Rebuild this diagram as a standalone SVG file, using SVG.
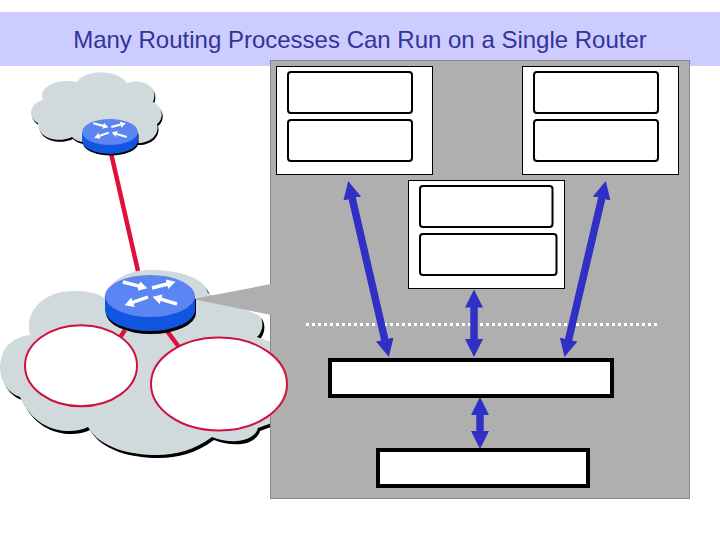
<svg xmlns="http://www.w3.org/2000/svg" xmlns:xlink="http://www.w3.org/1999/xlink" width="720" height="540" viewBox="0 0 720 540">
<style>
.box{fill:#fff;stroke:#000;stroke-width:1}
.inner{fill:#fff;stroke:#000;stroke-width:2}
.thick{fill:#fff;stroke:#000;stroke-width:4}
.link{stroke:#e0103c;stroke-width:4.500;fill:none}
.arrow{stroke:#3030c4;stroke-width:7.500;fill:none;marker-start:url(#head);marker-end:url(#head)}
.area{fill:#fff;stroke:#d0103c;stroke-width:2}
.cloud{fill:#d0dadc}
.wa{stroke:#fff;stroke-width:3.400;marker-end:url(#whead)}
</style>
<defs>
<marker id="head" markerUnits="userSpaceOnUse" markerWidth="20" markerHeight="20" refX="1" refY="9" orient="auto-start-reverse"><path d="M0,0L18,9L0,18Z" fill="#3030c4"/></marker>
<marker id="whead" markerUnits="userSpaceOnUse" markerWidth="11" markerHeight="11" refX="0.5" refY="5" orient="auto"><path d="M0,0L9,5L0,10Z" fill="#fff"/></marker>
<path id="sc" d="M38,123 C28,118 28,104 43,100 C38,88 55,78 77,82 C85,70 115,68 127,83 C140,78 160,85 153,102 C165,108 163,120 157,124 C160,135 150,143 138,143 L82,142 Q76,141 72,137 C60,143 38,140 38,123Z"/>
<path id="lc" d="M30,335 C24,310 45,290 75,291 C88,291 98,293 104,298 C108,280 130,270 150,270 C180,270 205,278 208,293 L260,316 C264,322 263,332 257,337 L280,345 L280,420 L258,428 C255,440 235,446 212,437 C195,450 175,455 157,455 C130,455 100,448 88,427 C70,436 35,432 20,397 C5,392 -3,375 1,360 C3,345 15,337 30,335Z"/>
<g id="router-shape">
<path d="M-45,1V15A45,21 0 0 0 45,15V1Z" fill="#000" transform="translate(1,2)"/>
<path d="M-45,0V14A45,21 0 0 0 45,14V0Z" fill="#1155e0"/>
<ellipse rx="45" ry="21" fill="#5a85f2"/>
<line class="wa" x1="-27" y1="-14" x2="-10.800" y2="-9.900"/>
<line class="wa" x1="2" y1="-8" x2="17.300" y2="-12"/>
<line class="wa" x1="-2" y1="1" x2="-17.400" y2="6.400"/>
<line class="wa" x1="27" y1="8" x2="10.700" y2="3.200"/>
</g>
</defs>
<rect width="720" height="540" fill="#fff"/>
<g id="title">
<rect x="0" y="12" width="720" height="54" fill="#ccccff"/>
<text x="360" y="47.500" text-anchor="middle" font-family="Liberation Sans, Arial, sans-serif" font-size="24" fill="#333399">Many Routing Processes Can Run on a Single Router</text>
</g>
<g id="cloud-top">
<use xlink:href="#sc" href="#sc" fill="#000" transform="translate(1,2)"/>
<use xlink:href="#sc" href="#sc" class="cloud"/>
</g>
<g id="cloud-main">
<use xlink:href="#lc" href="#lc" fill="#000" transform="translate(2,3)"/>
<use xlink:href="#lc" href="#lc" class="cloud"/>
</g>
<g id="panel">
<rect x="270.500" y="60.500" width="419" height="438" fill="#afafaf" stroke="#888" stroke-width="1"/>
<polygon points="193,299 271,284 271,315" fill="#afafaf"/>
</g>
<g id="connectors">
<line class="link" x1="111" y1="153" x2="138" y2="271"/>
<line class="link" x1="125" y1="330" x2="119" y2="339"/>
<line class="link" x1="167" y1="331" x2="179" y2="347"/>
<line x1="306" y1="324.500" x2="658" y2="324.500" stroke="#fff" stroke-width="3" stroke-dasharray="3 3"/>
<line class="arrow" x1="352" y1="197.500" x2="385" y2="340.500"/>
<line class="arrow" x1="601.900" y1="197.500" x2="568.400" y2="340.500"/>
<line class="arrow" x1="474" y1="306.500" x2="474" y2="340"/>
<line class="arrow" x1="480" y1="414" x2="480" y2="432"/>
</g>
<g id="router-top"><use xlink:href="#router-shape" href="#router-shape" transform="translate(110,132) scale(.62)"/></g>
<g id="router-main"><use xlink:href="#router-shape" href="#router-shape" transform="translate(150,296)"/></g>
<g id="area-left"><ellipse class="area" cx="81" cy="365.700" rx="56" ry="40.500"/></g>
<g id="area-right"><ellipse class="area" cx="219" cy="384" rx="68" ry="46.500"/></g>
<g id="process-left">
<rect class="box" x="276.500" y="66.500" width="156" height="108"/>
<rect class="inner" x="288" y="72" width="124" height="41" rx="3"/>
<rect class="inner" x="288" y="120" width="124" height="41" rx="3"/>
</g>
<g id="process-right">
<rect class="box" x="522.500" y="66.500" width="156" height="108"/>
<rect class="inner" x="534" y="72" width="124" height="41" rx="3"/>
<rect class="inner" x="534" y="120" width="124" height="41" rx="3"/>
</g>
<g id="process-mid">
<rect class="box" x="408.500" y="180.500" width="156" height="108"/>
<rect class="inner" x="420" y="186" width="132.500" height="41" rx="3"/>
<rect class="inner" x="420" y="234" width="136.500" height="41" rx="3"/>
</g>
<g id="table-main"><rect class="thick" x="330" y="360" width="282" height="36"/></g>
<g id="table-lower"><rect class="thick" x="378" y="450" width="210" height="36"/></g>
</svg>
